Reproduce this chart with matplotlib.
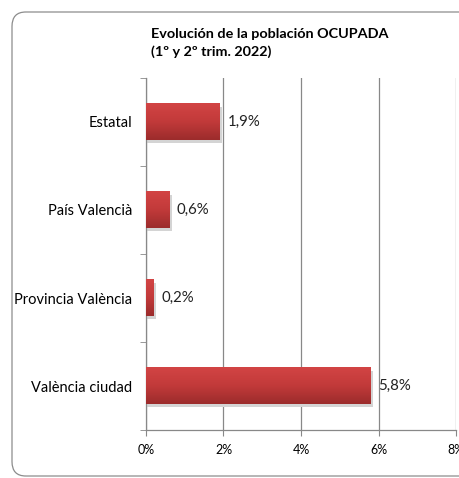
import matplotlib.pyplot as plt
from matplotlib.patches import FancyBboxPatch
from matplotlib.colors import LinearSegmentedColormap
import numpy as np

categories = ['Estatal', 'País Valencià', 'Provincia València', 'València ciudad']
values = [1.9, 0.6, 0.2, 5.8]
labels = ['1,9%', '0,6%', '0,2%', '5,8%']
xticks = [0, 2, 4, 6, 8]
xticklabels = ['0%', '2%', '4%', '6%', '8%']

plt.rcParams['font.family'] = ['Lato', 'DejaVu Sans']

fig = plt.figure(figsize=(4.6, 4.78), dpi=100)
fig.patch.set_facecolor('white')

# rounded chart frame (right side runs off the picture)
frame = FancyBboxPatch((12 / 460, 2 / 478), 480 / 460, 464 / 478,
                       boxstyle='round,pad=0,rounding_size=0.03',
                       transform=fig.transFigure, fill=False,
                       edgecolor='#8c8c8c', linewidth=0.9, zorder=0)
fig.patches.append(frame)

ax = fig.add_axes([146 / 460, 1 - 430 / 478, 310 / 460, 352 / 478])
y = np.arange(len(categories))

cmap = LinearSegmentedColormap.from_list('redgrad', ['#d24444', '#c23a3a', '#9c2c2c'])
grad = np.linspace(0, 1, 64).reshape(-1, 1)
h = 0.41
for yi, v in zip(y, values):
    # shadow
    ax.barh(yi + 0.035, v + 0.04, height=h, left=0.03, color='#d4d4d4', zorder=2)
    b = ax.barh(yi, v, height=h, color='none', zorder=3)[0]
    ax.imshow(grad, cmap=cmap, aspect='auto', zorder=3,
              extent=(0, v, yi + h / 2, yi - h / 2), clip_path=b, clip_on=True)

for yi, v, lab in zip(y, values, labels):
    ax.text(v + 0.2, yi, lab, va='center', ha='left', fontsize=10.8, color='#222222')

ax.set_xlim(0, 8)
ax.set_ylim(len(categories) - 0.5, -0.5)
ax.set_xticks(xticks)
ax.set_xticklabels(xticklabels, fontsize=9)
ax.set_yticks(y)
ax.set_yticklabels(categories, fontsize=10.5)
ax.set_yticks(np.arange(-0.5, len(categories)), minor=True)
ax.tick_params(axis='y', which='major', length=0, pad=10)
ax.tick_params(axis='y', which='minor', length=4, color='#888888')
ax.tick_params(axis='x', length=4, color='#888888', pad=6)
ax.grid(axis='x', color='#888888', linewidth=0.9, zorder=1)
ax.set_axisbelow(True)
for s in ['top', 'right']:
    ax.spines[s].set_visible(False)
for s in ['left', 'bottom']:
    ax.spines[s].set_color('#888888')
    ax.spines[s].set_linewidth(0.9)

fig.text(151 / 460, 1 - 43 / 478, 'Evolución de la población OCUPADA\n(1º y 2º trim. 2022)',
         fontsize=10.4, fontweight='bold', ha='left', va='center', linespacing=1.45)

fig.savefig('out.png', dpi=100)
